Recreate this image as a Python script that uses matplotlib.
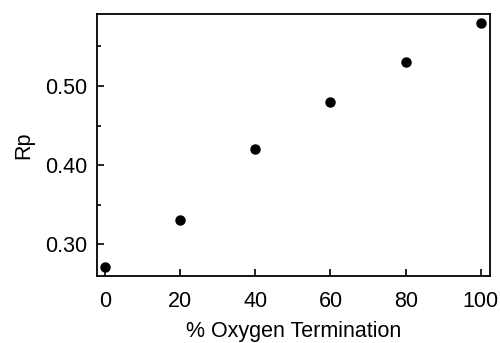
import matplotlib.pyplot as plt
from matplotlib.ticker import MultipleLocator

# Данные
oxygen = [0, 20, 40, 60, 80, 100]
rp = [0.271, 0.33, 0.42, 0.48, 0.53, 0.58]

plt.rcParams['font.family'] = ['Liberation Sans', 'DejaVu Sans']

fig = plt.figure(figsize=(5, 3.43), dpi=100)
ax = fig.add_axes([0.194, 0.195, 0.785, 0.764])

ax.plot(oxygen, rp, 'o', color='black', markersize=6.5)

ax.set_xlim(-2.1, 102.3)
ax.set_ylim(0.2595, 0.591)
ax.set_xticks([0, 20, 40, 60, 80, 100])
ax.set_yticks([0.30, 0.40, 0.50])
ax.set_yticklabels(['0.30', '0.40', '0.50'])
ax.yaxis.set_minor_locator(MultipleLocator(0.05))

ax.tick_params(axis='both', which='both', direction='in', labelsize=15.5,
               top=False, right=False, width=1.2)
ax.tick_params(axis='both', which='major', length=5)
ax.tick_params(axis='x', which='major', pad=11)
ax.tick_params(axis='y', which='major', pad=7)
ax.tick_params(axis='y', which='minor', length=3)
ax.tick_params(axis='x', which='minor', bottom=False)

for s in ax.spines.values():
    s.set_linewidth(1.3)

ax.set_xlabel('% Oxygen Termination', fontsize=15.5, labelpad=6)
ax.set_ylabel('Rp', fontsize=15.5, labelpad=8)

fig.savefig('out.png', dpi=100)
